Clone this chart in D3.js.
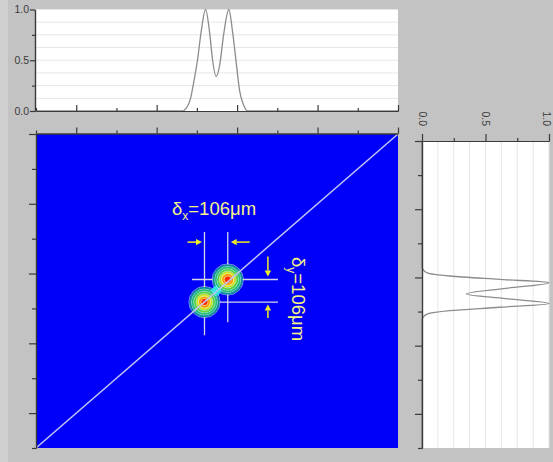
<!DOCTYPE html>
<html>
<head>
<meta charset="utf-8">
<script src="https://cdn.jsdelivr.net/npm/d3@7"></script>
<style>
  body { margin: 0; background: #c3c3c3; }
  svg { display: block; font-family: "Liberation Sans", Arial, sans-serif; }
</style>
</head>
<body>
<svg id="chart" width="553" height="462"></svg>
<script>
// scan extent in micrometres
const scanWidth = 1650;
const scanHeight = 1435;
const gridDivisions = 9;

// the two beam spots (centres, µm)
const spotX = [768, 874];
const spotY = [667, 770];
const separation = 106;

// contour levels of one spot and the radius (µm) where each is reached
const contourLevels = [0.1, 0.25, 0.4, 0.55, 0.7, 0.85];
const contourRadii = [71, 59, 49, 38, 27, 16];
const contourColors = ["#10929a", "#22c070", "#62d040", "#dce01c", "#ff9200", "#ff2c00"];

// horizontal intensity profile (top panel)
const profileXPos = [0, 640, 667, 686, 704, 722, 736, 754, 773, 791, 805, 821, 837, 855, 879, 896, 914, 928, 946, 965, 990, 1650];
const profileXVal = [0, 0, 0, 0.03, 0.12, 0.32, 0.5, 0.8, 1.0, 0.78, 0.5, 0.34, 0.45, 0.75, 1.0, 0.78, 0.45, 0.2, 0.06, 0, 0, 0];

// vertical intensity profile (right panel)
const profileYPos = [0, 560, 598, 612, 626, 642, 658, 676, 698, 720, 746, 773, 788, 804, 819, 833, 847, 880, 1435];
const profileYVal = [0, 0, 0, 0.01, 0.04, 0.22, 0.61, 1.0, 0.66, 0.35, 0.66, 1.0, 0.61, 0.22, 0.04, 0.01, 0, 0, 0];

// annotation guides (µm)
const guideTop = 987;
const guideBottom = [515, 575];
const guideLeft = 711;
const guideRight = 1103;
const arrowRow = 941;
const arrowCol = 1057;

const profileTicks = [0, 0.5, 1];
const profileMinor = [0.25, 0.75];
const profileGrid = d3.range(1, 9).map(i => i / 8);

const svg = d3.select("#chart");

// scales
const x = d3.scaleLinear([0, scanWidth], [36, 398]);
const y = d3.scaleLinear([0, scanHeight], [448, 134]);
const topI = d3.scaleLinear([0, 1], [111, 9.5]);
const sideY = d3.scaleLinear([0, scanHeight], [448, 141]);
const sideI = d3.scaleLinear([0, 1], [422, 549]);

const xTicks = d3.range(gridDivisions + 1).map(i => i * scanWidth / gridDivisions);
const yTicks = d3.range(gridDivisions + 1).map(i => i * scanHeight / gridDivisions);
const xMajor = xTicks.filter((d, i) => i % 2 === 1);
const xMinor = xTicks.filter((d, i) => i % 2 === 0);
const yMajor = yTicks.filter((d, i) => i % 2 === 1);
const yMinor = yTicks.filter((d, i) => i % 2 === 0);

svg.append("rect").attr("x", 0).attr("y", 0).attr("width", 8).attr("height", 462).attr("fill", "#d0d0d0");

// ---------- top profile panel ----------
svg.append("rect")
  .attr("x", x(0)).attr("y", topI(1) - 0.5)
  .attr("width", x(scanWidth) - x(0)).attr("height", topI(0) - topI(1) + 0.5)
  .attr("fill", "#fff");
svg.append("g").selectAll("line").data(profileGrid).join("line")
  .attr("x1", x(0)).attr("x2", x(scanWidth))
  .attr("y1", d => topI(d)).attr("y2", d => topI(d))
  .attr("stroke", "#e6e6e6");

svg.append("path")
  .datum(profileXPos.map((p, i) => [p, profileXVal[i]]))
  .attr("fill", "none").attr("stroke", "#8c8c8c").attr("stroke-width", 1.3)
  .attr("d", d3.line().x(d => x(d[0])).y(d => topI(d[1])).curve(d3.curveMonotoneX));

function styleAxis(g) {
  g.attr("color", "#3a3a3a").attr("font-size", 10.5).attr("font-family", null);
  g.selectAll("path, line").attr("stroke-width", 1.2);
}

svg.append("g").attr("transform", "translate(35,0)")
  .call(d3.axisLeft(topI).tickValues(profileTicks).tickSize(5).tickSizeOuter(0).tickPadding(1).tickFormat(d3.format(".1f")))
  .call(styleAxis);
svg.append("g").attr("transform", "translate(35,0)")
  .call(d3.axisLeft(topI).tickValues(profileMinor).tickSize(3).tickSizeOuter(0).tickFormat(""))
  .call(styleAxis);
svg.append("g").attr("transform", "translate(0,111)")
  .call(d3.axisTop(x).tickValues(xMajor).tickSize(6).tickSizeOuter(0).tickFormat(""))
  .call(styleAxis);
svg.append("g").attr("transform", "translate(0,111)")
  .call(d3.axisTop(x).tickValues(xMinor).tickSize(3).tickSizeOuter(0).tickFormat(""))
  .call(styleAxis);

// ---------- main map ----------
svg.append("rect")
  .attr("x", x(0)).attr("y", y(scanHeight))
  .attr("width", x(scanWidth) - x(0)).attr("height", y(0) - y(scanHeight))
  .attr("fill", "#0000fa");

// crosshair guides (under the spots)
const guides = svg.append("g").attr("stroke", "#d6d6e6").attr("stroke-width", 1.3);
spotX.forEach((sx, i) => {
  guides.append("line").attr("x1", x(sx)).attr("x2", x(sx))
    .attr("y1", y(guideTop)).attr("y2", y(guideBottom[i]));
});
guides.append("line").attr("x1", x(guideLeft)).attr("x2", x(guideRight))
  .attr("y1", y(spotY[1])).attr("y2", y(spotY[1]));
guides.append("line").attr("x1", x(spotX[0])).attr("x2", x(guideRight))
  .attr("y1", y(spotY[0])).attr("y2", y(spotY[0]));

// spots drawn as filled contour levels
const spots = spotX.map((sx, i) => ({ x: sx, y: spotY[i] }));
const rScale = r => x(r) - x(0);
const color = d3.scaleOrdinal(contourLevels, contourColors);
const spotG = svg.append("g");
contourLevels.forEach((lvl, li) => {
  const r = rScale(contourRadii[li]);
  spotG.append("g").selectAll("circle").data(spots).join("circle")
    .attr("cx", d => x(d.x)).attr("cy", d => y(d.y)).attr("r", r)
    .attr("fill", "none").attr("stroke", "#e6fff0").attr("stroke-width", 0.9).attr("stroke-opacity", 0.65);
  spotG.append("g").selectAll("circle").data(spots).join("circle")
    .attr("cx", d => x(d.x)).attr("cy", d => y(d.y)).attr("r", r - 0.5)
    .attr("fill", color(lvl));
  if (li === 0) {
    // merged neck between the two spots
    const mx = x(d3.mean(spotX)), my = y(d3.mean(spotY));
    spotG.append("ellipse").attr("cx", mx).attr("cy", my).attr("rx", 7).attr("ry", 4.5)
      .attr("transform", `rotate(-42,${mx},${my})`)
      .attr("fill", "#30e4e0");
  }
});

// diagonal
svg.append("line")
  .attr("x1", x(0)).attr("y1", y(0)).attr("x2", x(scanWidth)).attr("y2", y(scanHeight))
  .attr("stroke", "#c4c4f2").attr("stroke-width", 1.5);

// axes of the map
svg.append("g").attr("transform", "translate(36,0)")
  .call(d3.axisLeft(y).tickValues(yMajor).tickSize(7).tickSizeOuter(0).tickFormat(""))
  .call(styleAxis);
svg.append("g").attr("transform", "translate(36,0)")
  .call(d3.axisLeft(y).tickValues(yMinor).tickSize(4).tickSizeOuter(0).tickFormat(""))
  .call(styleAxis);
svg.append("g").attr("transform", "translate(0,133.5)")
  .call(d3.axisTop(x).tickValues(xMajor).tickSize(6).tickSizeOuter(0).tickFormat(""))
  .call(styleAxis);
svg.append("g").attr("transform", "translate(0,133.5)")
  .call(d3.axisTop(x).tickValues(xMinor).tickSize(3).tickSizeOuter(0).tickFormat(""))
  .call(styleAxis);

// arrows
const arrowColor = "#f0ee20";
function arrow(x1, y1, x2, y2) {
  const ang = Math.atan2(y2 - y1, x2 - x1);
  const hl = 6, hw = 3.2;
  const bx = x2 - hl * Math.cos(ang), by = y2 - hl * Math.sin(ang);
  svg.append("line").attr("x1", x1).attr("y1", y1).attr("x2", bx).attr("y2", by)
    .attr("stroke", arrowColor).attr("stroke-width", 1.5);
  svg.append("path")
    .attr("d", `M${x2},${y2}L${bx - hw * Math.sin(ang)},${by + hw * Math.cos(ang)}L${bx + hw * Math.sin(ang)},${by - hw * Math.cos(ang)}Z`)
    .attr("fill", arrowColor);
}
arrow(x(spotX[0]) - 17, y(arrowRow), x(spotX[0]) - 2.5, y(arrowRow));
arrow(x(spotX[1]) + 22, y(arrowRow), x(spotX[1]) + 3, y(arrowRow));
arrow(x(arrowCol), y(spotY[1]) - 23, x(arrowCol), y(spotY[1]) - 3);
arrow(x(arrowCol), y(spotY[0]) + 16, x(arrowCol), y(spotY[0]) + 2.5);

// labels
const labelColor = "#f6f486";
const lx = svg.append("text").attr("x", 172).attr("y", 215)
  .attr("fill", labelColor).attr("font-size", 18.5);
lx.append("tspan").text("δ");
lx.append("tspan").attr("font-size", 12).attr("dy", 5).text("x");
lx.append("tspan").attr("dy", -5).text(`=${separation}μm`);

const ly = svg.append("text").attr("transform", "translate(292,257) rotate(90)")
  .attr("fill", labelColor).attr("font-size", 18.5);
ly.append("tspan").text("δ");
ly.append("tspan").attr("font-size", 12).attr("dy", 5).text("y");
ly.append("tspan").attr("dy", -5).text(`=${separation}μm`);

// ---------- right profile panel ----------
svg.append("rect")
  .attr("x", sideI(0)).attr("y", sideY(scanHeight))
  .attr("width", sideI(1) - sideI(0)).attr("height", sideY(0) - sideY(scanHeight))
  .attr("fill", "#fff");
svg.append("g").selectAll("line").data(profileGrid).join("line")
  .attr("x1", d => sideI(d)).attr("x2", d => sideI(d))
  .attr("y1", sideY(0)).attr("y2", sideY(scanHeight))
  .attr("stroke", "#e6e6e6");

svg.append("path")
  .datum(profileYPos.map((p, i) => [p, profileYVal[i]]))
  .attr("fill", "none").attr("stroke", "#8c8c8c").attr("stroke-width", 1.3)
  .attr("d", d3.line().x(d => sideI(d[1])).y(d => sideY(d[0])).curve(d3.curveMonotoneY));

svg.append("g").attr("transform", "translate(422,0)")
  .call(d3.axisLeft(sideY).tickValues(yMajor).tickSize(7).tickSizeOuter(0).tickFormat(""))
  .call(styleAxis);
svg.append("g").attr("transform", "translate(422,0)")
  .call(d3.axisLeft(sideY).tickValues(yMinor).tickSize(4).tickSizeOuter(0).tickFormat(""))
  .call(styleAxis);
svg.append("g").attr("transform", "translate(0,141)")
  .call(d3.axisTop(sideI).tickValues(profileMinor).tickSize(3).tickSizeOuter(0).tickFormat(""))
  .call(styleAxis);
svg.append("g").attr("transform", "translate(0,141)")
  .call(d3.axisTop(sideI).tickValues(profileTicks).tickSize(7).tickSizeOuter(0).tickFormat(d3.format(".1f")))
  .call(styleAxis)
  .call(g => g.selectAll("text")
    .attr("y", 0).attr("dy", "0.35em").attr("text-anchor", "end")
    .attr("transform", d => `translate(${d === 1 ? -2.5 : 0},-15) rotate(90)`));
</script>
</body>
</html>
